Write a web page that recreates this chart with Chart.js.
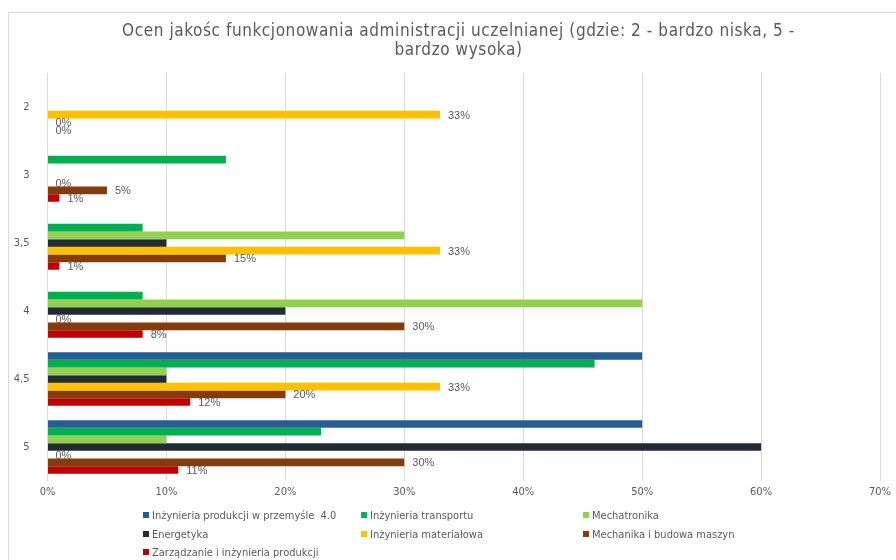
<!DOCTYPE html>
<html>
<head>
<meta charset="utf-8">
<script src="https://cdn.jsdelivr.net/npm/chart.js@4/dist/chart.umd.min.js"></script>
<style>
  html, body { margin: 0; padding: 0; background: #fff; }
  #wrap { position: relative; width: 896px; height: 560px; overflow: hidden; }
  #frame { position: absolute; left: 8px; top: 12px; width: 1000px; height: 1000px; border: 1px solid #d9d9d9; box-sizing: border-box; }
  canvas { position: absolute; left: 0; top: 0; }
  #title { position: absolute; left: 0px; width: 917px; top: 21px; text-align: center;
    font-family: "Liberation Sans Narrow", "DejaVu Sans Condensed", sans-serif; font-size: 16.5px; line-height: 19px; color: #595959; white-space: nowrap; }
  .lg { position: absolute; font-family: "Liberation Sans Narrow", "DejaVu Sans Condensed", sans-serif; font-size: 11px; color: #595959; white-space: pre; line-height: 12px; }
  .lg i { display: inline-block; width: 6px; height: 6px; margin-right: 3px; vertical-align: 1px; }
</style>
</head>
<body>
<div id="wrap">
  <div id="frame"></div>
  <canvas id="c" width="896" height="560"></canvas>
  <div id="title"></div>
  <div id="legend"></div>
</div>
<script>
const titleLines = ["Ocen jakośc funkcjonowania administracji uczelnianej (gdzie: 2 - bardzo niska, 5 -", "bardzo wysoka)"];
const categories = ["2", "3", "3,5", "4", "4,5", "5"];
const seriesNames = [
  "Inżynieria produkcji w przemyśle  4.0",
  "Inżynieria transportu",
  "Mechatronika",
  "Energetyka",
  "Inżynieria materiałowa",
  "Mechanika i budowa maszyn",
  "Zarządzanie i inżynieria produkcji"
];
const produkcja40   = [0, 0, 0, 0, 50, 50];
const transport     = [0, 15, 8, 8, 46, 23];
const mechatronika  = [0, 0, 30, 50, 10, 10];
const energetyka    = [0, 0, 10, 20, 10, 60];
const materialowa   = [33, 0, 33, 0, 33, 0];
const mechanika     = [0, 5, 15, 30, 20, 30];
const zarzadzanie   = [0, 1, 1, 8, 12, 11];
const xTicks = [0, 10, 20, 30, 40, 50, 60, 70];
const colors = ["#255e91", "#00b050", "#92d050", "#222a35", "#ffc000", "#843c0c", "#c00000"];
const labelledSeries = [4, 5, 6];

const allSeries = [produkcja40, transport, mechatronika, energetyka, materialowa, mechanika, zarzadzanie];

// title, fitted to the reference width of its first line
const titleEl = document.getElementById('title');
titleEl.innerHTML = titleLines.join('<br>');
(function fitTitle() {
  const mc = document.createElement('canvas').getContext('2d');
  const fam = getComputedStyle(titleEl).fontFamily;
  const target = 673;
  mc.font = '16px ' + fam;
  const w16 = mc.measureText(titleLines[0]).width;
  let size = Math.min(17, 16 * target / w16);
  mc.font = size + 'px ' + fam;
  const w = mc.measureText(titleLines[0]).width;
  const ls = (target - w) / titleLines[0].length;
  titleEl.style.fontSize = size.toFixed(2) + 'px';
  titleEl.style.letterSpacing = Math.max(-1, Math.min(1, ls)).toFixed(2) + 'px';
})();

// legend (HTML, 3 columns)
const legendCols = [143, 361, 583];
const legendRows = [510, 529, 547];
const lgEl = document.getElementById('legend');
seriesNames.forEach((n, i) => {
  const d = document.createElement('div');
  d.className = 'lg';
  d.style.left = legendCols[i % 3] + 'px';
  d.style.top = legendRows[Math.floor(i / 3)] + 'px';
  d.innerHTML = '<i style="background:' + colors[i] + '"></i>' + n;
  lgEl.appendChild(d);
});

const valueLabels = {
  id: 'valueLabels',
  afterDatasetsDraw(chart) {
    const ctx = chart.ctx;
    ctx.save();
    ctx.font = '11px "Liberation Sans", "DejaVu Sans", sans-serif';
    ctx.fillStyle = '#595959';
    ctx.textAlign = 'left';
    ctx.textBaseline = 'middle';
    labelledSeries.forEach(di => {
      const meta = chart.getDatasetMeta(di);
      meta.data.forEach((bar, j) => {
        const v = chart.data.datasets[di].data[j];
        ctx.fillText(v + '%', bar.x + 8, bar.y + 1);
      });
    });
    ctx.restore();
  }
};

const tickFont = { family: '"Liberation Sans Narrow", "DejaVu Sans Condensed", sans-serif', size: 11 };

new Chart(document.getElementById('c'), {
  type: 'bar',
  data: {
    labels: categories,
    datasets: allSeries.map((d, i) => ({
      label: seriesNames[i],
      data: d,
      backgroundColor: colors[i],
      borderWidth: 0,
      categoryPercentage: 0.79,
      barPercentage: 1.0
    }))
  },
  options: {
    indexAxis: 'y',
    responsive: false,
    animation: false,
    layout: { padding: { left: 0, right: 14.5, top: 73, bottom: 59 } },
    plugins: { legend: { display: false }, title: { display: false }, tooltip: { enabled: false } },
    scales: {
      x: {
        min: 0, max: 70,
        afterBuildTicks(scale) { scale.ticks = xTicks.map(v => ({ value: v })); },
        afterFit(scale) { scale.height = 20; },
        grid: { color: '#d9d9d9', lineWidth: 1, drawTicks: false },
        border: { display: false },
        ticks: { callback: v => v + '%', color: '#595959', font: tickFont, padding: 5 }
      },
      y: {
        afterFit(scale) { scale.width = 47.5; },
        grid: { display: false },
        border: { display: false },
        ticks: { color: '#595959', font: tickFont, padding: 10 }
      }
    }
  },
  plugins: [valueLabels]
});
</script>
</body>
</html>
